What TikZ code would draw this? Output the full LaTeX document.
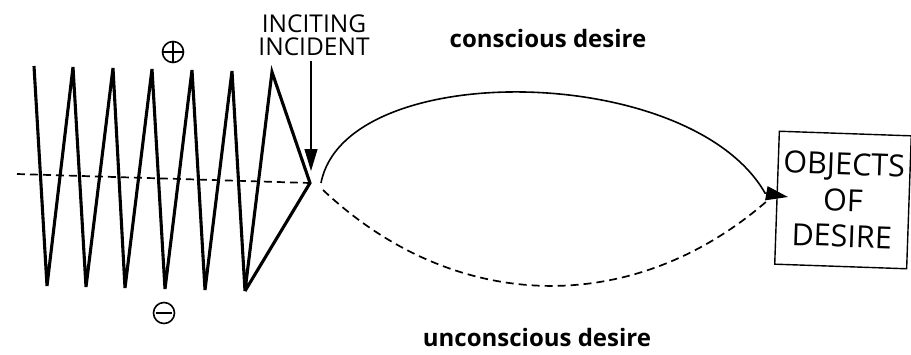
\documentclass[tikz,border=0pt]{standalone}
\usepackage{fontspec}
\setmainfont{Open Sans}
\usetikzlibrary{arrows.meta,positioning}

\begin{document}
\begin{tikzpicture}[x=1pt,y=-1pt,>=Stealth,
  zig/.style={line width=3.1pt,line join=miter},
  curve/.style={line width=1.6pt},
  dashline/.style={line width=1.7pt,dash pattern=on 8pt off 5pt},
  sign/.style={circle,draw,line width=1.6pt,minimum size=21pt,inner sep=0pt},
  caps/.style={font=\fontsize{24.5}{26}\selectfont,align=center},
  want/.style={font=\fontsize{24}{26}\selectfont\bfseries},
  objbox/.style={draw,line width=1.4pt,minimum width=132pt,minimum height=133pt,
    font=\fontsize{30.5}{36}\selectfont,align=center,inner sep=0pt}]
\useasboundingbox (0,0) rectangle (911,354);

% the rising and falling action
\coordinate (apex) at (310,183);
\coordinate (rest) at (17,174);
\draw[zig] (34,66) -- (47,286) -- (73,67) -- (86,287) -- (113,68) -- (125,288)
  -- (152,69) -- (165,289) -- (192,70) -- (205,290) -- (232,71) -- (245,291)
  -- (272,72) -- (apex) -- (245,291);
\draw[dashline] (rest) -- (apex);
\node[sign] (plus) at (173,52) {};
\draw[line width=1.6pt] (plus.north) -- (plus.south) (plus.west) -- (plus.east);
\node[sign] (minus) at (164,313) {};
\draw[line width=2.2pt] ([xshift=3pt]minus.west) -- ([xshift=-3pt]minus.east);

% inciting incident
\node[caps] (incident) at (314,35) {INCITING\\[-3pt]INCIDENT};
\coordinate (hit) at (311,171);
\draw[line width=1.2pt,-{Triangle[length=22pt,width=13pt]}] (incident.south -| hit) ++(0,2) -- (hit);

% the two desires
\node[objbox,rotate=-2] (objects) at (843,200) {OBJECTS\\OF\\DESIRE};
\coordinate (left) at (321,183);
\coordinate (tip) at (788,197);
\draw[curve,-{Triangle[length=22pt,width=14pt]}] (left) .. controls (345,58) and (690,62) .. (765,193) -- (tip);
\draw[dashline] (323,190) .. controls (457,316) and (635,316) .. (767,201);
\node[want] (conscious) at (548,38) {conscious desire};
\node[want] (unconscious) at (537,337) {unconscious desire};
\end{tikzpicture}
\end{document}
